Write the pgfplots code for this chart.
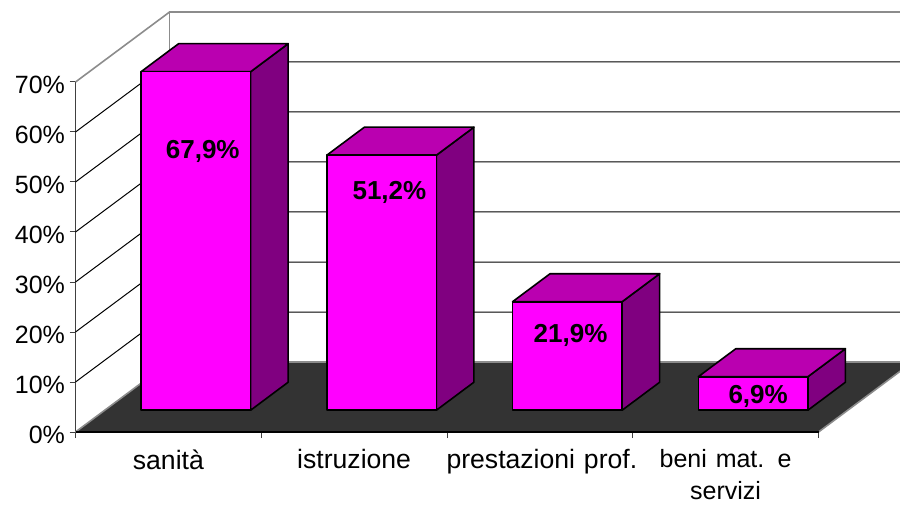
\documentclass[border=0pt]{standalone}
\usepackage{fontspec}
\setmainfont{Liberation Sans}
\usepackage{pgfplots}
\pgfplotsset{compat=1.18}

\definecolor{barfront}{HTML}{FF00FF}
\definecolor{bartop}{HTML}{BA00B0}
\definecolor{barside}{HTML}{800080}
\definecolor{floorc}{HTML}{333333}
\definecolor{wallc}{HTML}{8C8C8C}

% one 3D bar: #1 = left edge of the front face, #2 = value in percent
\newcommand{\threedbar}[2]{%
  \pgfmathsetmacro{\xa}{#1}%
  \pgfmathsetmacro{\xb}{#1+0.59}%
  \pgfmathsetmacro{\xc}{#1+0.59+0.202}%
  \pgfmathsetmacro{\xd}{#1+0.202}%
  \pgfmathsetmacro{\yt}{#2+4.16}%
  \pgfmathsetmacro{\ytb}{#2+4.16+5.6}%
  \pgfmathsetmacro{\ybb}{4.36+5.6}%
  \edef\temp{%
    \noexpand\addplot[draw=black,line width=1.6pt,line join=round,fill=barside] coordinates {(\xb,4.36) (\xc,\ybb) (\xc,\ytb) (\xb,\yt)} --cycle;
    \noexpand\addplot[draw=black,line width=1.6pt,line join=round,fill=bartop] coordinates {(\xa,\yt) (\xd,\ytb) (\xc,\ytb) (\xb,\yt)} --cycle;
    \noexpand\addplot[draw=black,line width=1.6pt,line join=round,fill=barfront] coordinates {(\xa,4.36) (\xb,4.36) (\xb,\yt) (\xa,\yt)} --cycle;
  }\temp
}

\begin{document}
\begin{tikzpicture}
\useasboundingbox (0,0) rectangle (900pt,504pt);
\begin{axis}[
  at={(75.5pt,72pt)},
  anchor=origin,
  scale only axis,
  width=743pt,
  height=350pt,
  xmin=0, xmax=4,
  ymin=0, ymax=70,
  clip=false,
  axis lines*=left,
  axis line style={draw=black!75,line width=1.4pt,-},
  tick align=outside,
  major tick length=6pt,
  minor tick length=6pt,
  xtick={0.5,1.5,2.5,3.5},
  xticklabels={sanità,istruzione,\hspace*{4pt}prestazioni prof.,{\fontsize{25}{32}\selectfont beni mat. e\\servizi}},
  minor xtick={0,1,2,3,4},
  major x tick style={draw=none},
  minor x tick style={draw=black!75,line width=1pt},
  ytick={0,10,20,30,40,50,60,70},
  yticklabels={0\%,10\%,20\%,30\%,40\%,50\%,60\%,70\%},
  y tick style={draw=black!75,line width=1pt},
  every tick label/.append style={text=black},
  xticklabel style={font=\fontsize{26.6}{32}\selectfont,align=center,text width=200pt,inner ysep=0pt,yshift=-11.5pt},
  yticklabel style={font=\fontsize{25}{33}\selectfont,xshift=-1pt,yshift=-2.5pt},
]
% floor
\addplot[draw=wallc,line width=1.6pt,fill=floorc] coordinates {(0,0) (0.5065,14) (4.5065,14) (4,0)};
\addplot[draw=black,line width=1.4pt] coordinates {(0,0) (4,0)};
% gridlines on side and back wall
\addplot[black,line width=1pt] coordinates {(0,10) (0.5065,24) (4.5065,24)};
\addplot[black,line width=1pt] coordinates {(0,20) (0.5065,34) (4.5065,34)};
\addplot[black,line width=1pt] coordinates {(0,30) (0.5065,44) (4.5065,44)};
\addplot[black,line width=1pt] coordinates {(0,40) (0.5065,54) (4.5065,54)};
\addplot[black,line width=1pt] coordinates {(0,50) (0.5065,64) (4.5065,64)};
\addplot[black,line width=1pt] coordinates {(0,60) (0.5065,74) (4.5065,74)};
% wall outline
\addplot[wallc,line width=1.6pt] coordinates {(0,70) (0.5065,84) (4.5065,84)};
\addplot[wallc,line width=1.6pt] coordinates {(0.5065,84) (0.5065,14)};
% bars
\threedbar{0.353}{67.9}
\threedbar{1.353}{51.2}
\threedbar{2.353}{21.9}
\threedbar{3.353}{6.9}
% value labels
\node[font=\fontsize{26}{30}\selectfont\bfseries] at (axis cs:0.685,56.2) {67,9\%};
\node[font=\fontsize{26}{30}\selectfont\bfseries] at (axis cs:1.69,48.0) {51,2\%};
\node[font=\fontsize{26}{30}\selectfont\bfseries] at (axis cs:2.665,19.4) {21,9\%};
\node[font=\fontsize{26}{30}\selectfont\bfseries] at (axis cs:3.675,7.2) {6,9\%};
\end{axis}
\end{tikzpicture}
\end{document}
